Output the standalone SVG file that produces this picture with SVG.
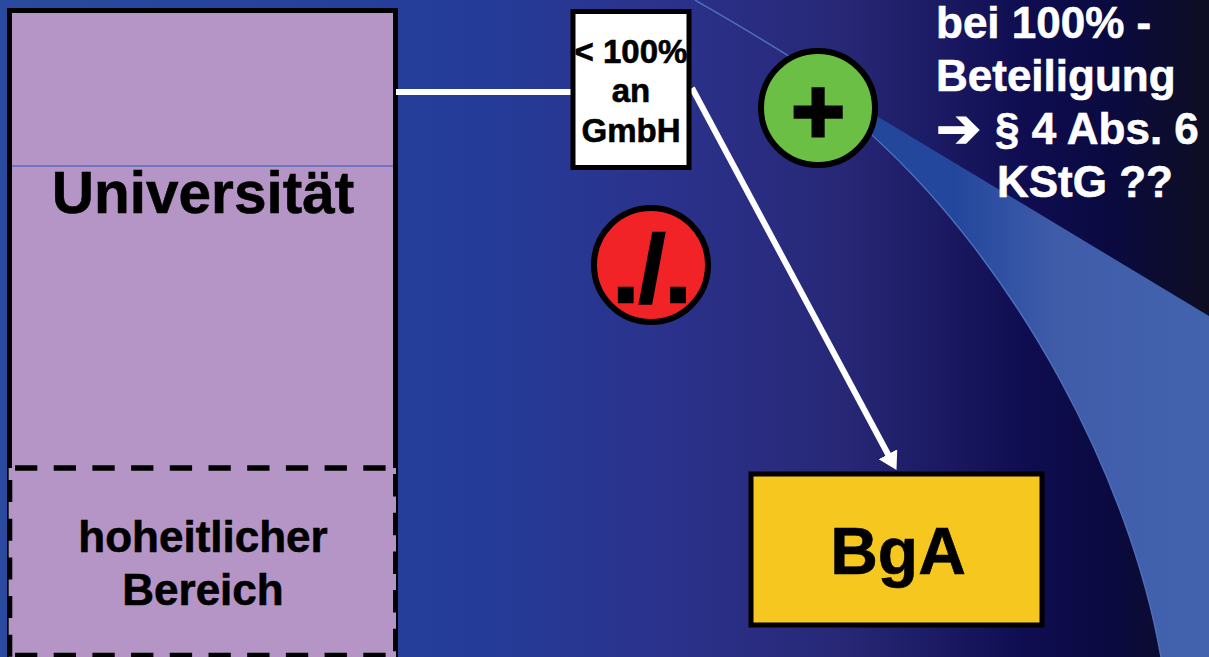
<svg xmlns="http://www.w3.org/2000/svg" width="1209" height="657" viewBox="0 0 1209 657">
<style>
text{font-family:"Liberation Sans",Arial,sans-serif;font-weight:700;fill:#000;stroke:#000;stroke-width:.6;text-anchor:middle}
.w{fill:#fff;stroke:#fff;text-anchor:start}
.c{stroke:#000;stroke-width:6}
</style>
<defs>
<linearGradient id="bg" x1="0" y1="0" x2="1209" y2="0" gradientUnits="userSpaceOnUse">
<stop offset="0" stop-color="#2a4a9f"/><stop offset=".4" stop-color="#243c98"/><stop offset=".55" stop-color="#2b328c"/><stop offset=".7" stop-color="#272776"/><stop offset=".85" stop-color="#0f0d50"/><stop offset=".92" stop-color="#0a0a40"/><stop offset="1" stop-color="#0e0e22"/>
</linearGradient>
<linearGradient id="sw" x1="870" y1="0" x2="1209" y2="0" gradientUnits="userSpaceOnUse">
<stop offset="0" stop-color="#24479b"/><stop offset=".25" stop-color="#23479d"/><stop offset=".55" stop-color="#3f5ca9"/><stop offset="1" stop-color="#4363af"/>
</linearGradient>
<marker id="ah" markerUnits="userSpaceOnUse" markerWidth="24" markerHeight="24" refX="10" refY="10.500" orient="auto"><path d="M0 0L18 10.500L0 21Z" fill="#fff" stroke="none"/></marker>
</defs>
<rect width="1209" height="657" fill="url(#bg)"/>
<path id="swoosh" d="M870 112L1209 316V657H1161C1130 480 1020 270 870 132Z" fill="url(#sw)"/>
<path d="M695 0C760 38 820 72 875 118M872 135C1020 270 1130 480 1161 657" fill="none" stroke="#4f6fb8" stroke-width="1.500"/>
<g id="universitaet">
<rect x="9.500" y="10.500" width="386" height="660" fill="#b595c6" stroke="#000" stroke-width="5"/>
<path d="M12 166H393" stroke="#2a52bd" stroke-width="1"/>
<text x="203" y="213" font-size="58.500">Universität</text>
</g>
<g id="hoheitlich">
<rect x="8.700" y="468" width="388" height="189" fill="#b595c6"/>
<path d="M15 468H392M15 655.500H392" stroke="#000" stroke-width="5.500" stroke-dasharray="22.300 16.400" fill="none"/>
<path d="M9.800 480V657" stroke="#000" stroke-width="5" stroke-dasharray="22 16.700" fill="none"/>
<path d="M395.500 474V657" stroke="#000" stroke-width="5" stroke-dasharray="22.500 16.200" fill="none"/>
<path d="M397 468V657" stroke="#000" stroke-width="2" fill="none"/>
<text x="203" y="552" font-size="44">hoheitlicher</text>
<text x="203" y="605" font-size="44">Bereich</text>
</g>
<g id="connectors" fill="none" stroke="#fff" stroke-width="6">
<path d="M396 92H572"/>
<path d="M692 88L892.700 463" marker-end="url(#ah)"/>
</g>
<g id="gmbh">
<rect x="573" y="11.500" width="116" height="156" fill="#fff" stroke="#000" stroke-width="5"/>
<text x="631" y="63" font-size="33">&lt; 100%</text>
<text x="631" y="102" font-size="33">an</text>
<text x="631" y="142" font-size="33">GmbH</text>
</g>
<g id="plus">
<circle class="c" cx="818" cy="108" r="57" fill="#6cbf45"/>
<text x="818" y="143" font-size="92" style="stroke-width:3">+</text>
</g>
<g id="minus">
<circle class="c" cx="651" cy="265" r="57" fill="#f12326"/>
<text x="652" y="302" font-size="94" style="stroke-width:2.500">./.</text>
</g>
<g id="bga">
<rect x="751" y="474" width="291" height="151" fill="#f6c71f" stroke="#000" stroke-width="5"/>
<text x="898" y="574" font-size="66">BgA</text>
</g>
<g id="note">
<text class="w" x="936" y="38" font-size="44">bei 100% -</text>
<text class="w" x="936" y="91" font-size="44">Beteiligung</text>
<text class="w" x="936" y="147" font-size="54" style="font-family:'DejaVu Sans',sans-serif;stroke-width:1.500">➔</text>
<text class="w" x="995" y="144" font-size="44">§ 4 Abs. 6</text>
<text class="w" x="997" y="197" font-size="44">KStG ??</text>
</g>
</svg>
